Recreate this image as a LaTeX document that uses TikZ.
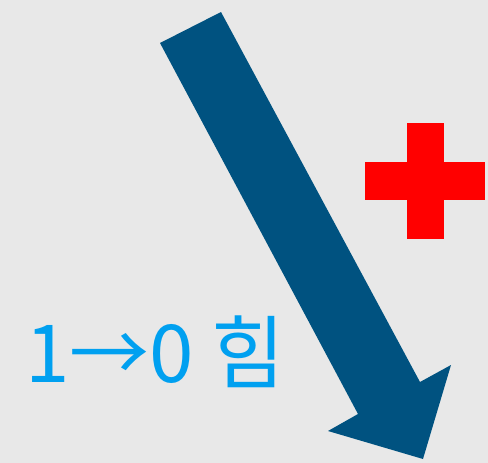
\documentclass[tikz,border=0pt]{standalone}
\usepackage{fontspec}
\newfontfamily\krfont{Noto Sans CJK KR}
\usepackage{tikz}
\usetikzlibrary{positioning}
\definecolor{paper}{RGB}{232,232,232}
\definecolor{arrowblue}{RGB}{0,82,128}
\definecolor{textblue}{RGB}{0,160,240}
\begin{document}
\begin{tikzpicture}[x=1pt,y=-1pt]
            \fill[paper] (0,0) rectangle (488,463);
            \useasboundingbox (0,0) rectangle (488,463);
            % big arrow
            \fill[arrowblue] (221,12) -- (420,382) -- (451,365) -- (423,459) -- (328,431) -- (358,414) -- (160,43) -- cycle;
            % red plus
            \fill[red] (407,123) rectangle (444,239);
            \fill[red] (365,162) rectangle (485,200);
            \node[anchor=base west, inner sep=0pt, text=textblue, font=\krfont\fontsize{80}{80}\selectfont] (label) at (25,382) {1→0 힘};
        \end{tikzpicture}
\end{document}
